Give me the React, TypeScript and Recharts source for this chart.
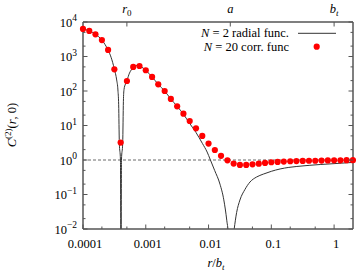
import React from 'react';
import { ComposedChart, Line, Scatter, XAxis, YAxis, ReferenceLine, Legend } from 'recharts';

// N = 2 radial function (solid line)
const radialR = [
  0.0001, 0.000126, 0.000158, 0.0002, 0.00025, 0.00028, 0.000316, 0.000344, 0.00036, 0.00037,
  0.000379, 0.000395, 0.000403, 0.00041, 0.000429, 0.00044, 0.00045, 0.000475, 0.0005, 0.00055,
  0.00063, 0.0007, 0.00076, 0.00085, 0.001, 0.00126, 0.00158, 0.002, 0.0025, 0.00316,
  0.004, 0.005, 0.0063, 0.008, 0.0095, 0.0106, 0.0125, 0.0152, 0.0175, 0.0195,
  0.021, 0.0227, 0.024, 0.0256, 0.028, 0.0316, 0.038, 0.0457, 0.058, 0.0746,
  0.1, 0.138, 0.19, 0.255, 0.4, 0.6, 0.86, 1.3, 2,
];
const radialC = [
  6300, 5500, 4400, 3000, 1550, 950, 430, 209, 107, 40,
  3.2, 1, 0.0001, 1, 3.2, 50, 110, 160, 200, 330,
  470, 540, 550, 500, 400, 256, 156, 100, 59, 36,
  21, 11.5, 6.3, 3.0, 1.7, 1.05, 0.5, 0.2, 0.07, 0.018,
  0.005, 0.0001, 0.004, 0.01, 0.03, 0.069, 0.14, 0.23, 0.32, 0.39,
  0.47, 0.55, 0.61, 0.65, 0.7, 0.74, 0.77, 0.81, 0.85,
];

// N = 20 correlation function (red dots)
const corrR = [
  0.0001, 0.000126, 0.000158, 0.0002, 0.000251, 0.000316, 0.000398, 0.000501, 0.000631, 0.000794,
  0.001, 0.00126, 0.00158, 0.002, 0.00251, 0.00316, 0.00398, 0.00501, 0.00631, 0.00794,
  0.01, 0.0126, 0.0158, 0.02, 0.0251, 0.0316, 0.0398, 0.0501, 0.0631, 0.0794,
  0.1, 0.126, 0.158, 0.2, 0.251, 0.316, 0.398, 0.501, 0.631, 0.794,
  1, 1.26, 1.58, 1.995,
];
const corrC = [
  6300, 5500, 4400, 3000, 1550, 425, 3.2, 195, 500, 530,
  400, 256, 156, 100, 59, 36, 22, 13.5, 8.3, 5.0,
  3.0, 1.95, 1.32, 0.98, 0.79, 0.72, 0.72, 0.75, 0.78, 0.82,
  0.86, 0.88, 0.9, 0.92, 0.93, 0.94, 0.95, 0.95, 0.96, 0.97,
  0.98, 0.98, 0.99, 0.99,
];

const xTicks = [0.0001, 0.0002, 0.0005, 0.001, 0.002, 0.005, 0.01, 0.02, 0.05, 0.1, 0.2, 0.5, 1];
const xLabels = [
  { v: 0.0001, t: '0.0001' },
  { v: 0.001, t: '0.001' },
  { v: 0.01, t: '0.01' },
  { v: 0.1, t: '0.1' },
  { v: 1, t: '1' },
];
const yTicks = [
  0.01, 0.02, 0.05, 0.1, 0.2, 0.5, 1, 2, 5, 10, 20, 50, 100, 200, 500, 1000, 2000, 5000, 10000,
];
const yExponents = [
  { v: 0.01, e: '−2' },
  { v: 0.1, e: '−1' },
  { v: 1, e: '0' },
  { v: 10, e: '1' },
  { v: 100, e: '2' },
  { v: 1000, e: '3' },
  { v: 10000, e: '4' },
];
const topTicks = [
  { v: 0.0005, t: 'r', sub: '0' },
  { v: 0.0222, t: 'a', sub: '' },
  { v: 1, t: 'b', sub: 't' },
];

const radialData = radialR.map((x, i) => ({ x, y: radialC[i] }));
const corrData = corrR.map((x, i) => ({ x, y: corrC[i] }));

const TXT = { fontFamily: "'Liberation Serif', 'DejaVu Serif', serif", fontSize: 12.5, fill: '#000' };
const AXIS = '#555';
const same = (a: number, b: number) => Math.abs(a - b) <= Math.abs(b) * 1e-6;

function BottomTick({ x, y, payload }: any) {
  const lab = xLabels.find((l) => same(l.v, payload.value));
  return (
    <g>
      <line x1={x} y1={y} x2={x} y2={y - (lab ? 4.5 : 2.5)} stroke={AXIS} strokeWidth={1} />
      {lab && (
        <text x={x + 2} y={y + 19} textAnchor="middle" style={TXT}>
          {lab.t}
        </text>
      )}
    </g>
  );
}

function TopTick({ x, y, payload }: any) {
  const lab = topTicks.find((l) => same(l.v, payload.value));
  return (
    <g>
      <line x1={x} y1={y} x2={x} y2={y + 4.5} stroke={AXIS} strokeWidth={1} />
      {lab && (
        <text x={x} y={y - 9} textAnchor="middle" style={TXT}>
          <tspan fontStyle="italic">{lab.t}</tspan>
          {lab.sub && (
            <tspan dy={3} fontSize={9} fontStyle={lab.sub === 't' ? 'italic' : 'normal'}>
              {lab.sub}
            </tspan>
          )}
        </text>
      )}
    </g>
  );
}

function LeftTick({ x, y, payload }: any) {
  const lab = yExponents.find((l) => same(l.v, payload.value));
  return (
    <g>
      <line x1={x} y1={y} x2={x + (lab ? 4.5 : 2.5)} y2={y} stroke={AXIS} strokeWidth={1} />
      {lab && (
        <text x={x - 6} y={y + 4.5} textAnchor="end" style={TXT}>
          <tspan>10</tspan>
          <tspan dy={-5.5} fontSize={9.5}>{lab.e}</tspan>
        </text>
      )}
    </g>
  );
}

function RightTick({ x, y, payload }: any) {
  const major = yExponents.some((l) => same(l.v, payload.value));
  return <line x1={x} y1={y} x2={x - (major ? 4.5 : 2.5)} y2={y} stroke={AXIS} strokeWidth={1} />;
}

const renderLegend = () => (
  <svg width={186} height={40} style={{ display: 'block' }}>
    <text x={119} y={16.5} textAnchor="end" style={TXT}>
      <tspan fontStyle="italic">N</tspan>
      {' = 2 radial func.'}
    </text>
    <line x1={128} y1={13.3} x2={166} y2={13.3} stroke="#333" strokeWidth={1} />
    <text x={119} y={30.5} textAnchor="end" style={TXT}>
      <tspan fontStyle="italic">N</tspan>
      {' = 20 corr. func'}
    </text>
    <circle cx={146.7} cy={26.7} r={3.1} fill="#ff0000" />
  </svg>
);

export default function App() {
  return (
    <div style={{ position: 'absolute', left: 0, top: 0, width: 356, height: 272, background: '#fff' }}>
      <ComposedChart width={356} height={272} margin={{ top: 21, right: 2, bottom: 42, left: 82 }}>
        <XAxis
          dataKey="x"
          type="number"
          scale="log"
          domain={[0.0001, 2]}
          ticks={xTicks}
          interval={0}
          height={1}
          tickSize={0}
          tickMargin={0}
          tickLine={false}
          axisLine={{ stroke: AXIS, strokeWidth: 1.5 }}
          tick={<BottomTick />}
          label={{
            content: () => (
              <text x={216} y={267} textAnchor="middle" style={TXT}>
                <tspan fontStyle="italic">r</tspan>
                <tspan>/</tspan>
                <tspan fontStyle="italic">b</tspan>
                <tspan dy={3} fontSize={9} fontStyle="italic">t</tspan>
              </text>
            ),
          }}
        />
        <XAxis
          xAxisId="top"
          orientation="top"
          dataKey="x"
          type="number"
          scale="log"
          domain={[0.0001, 2]}
          ticks={topTicks.map((t) => t.v)}
          interval={0}
          height={1}
          tickSize={0}
          tickMargin={0}
          tickLine={false}
          axisLine={{ stroke: AXIS, strokeWidth: 1.5 }}
          tick={<TopTick />}
        />
        <YAxis
          dataKey="y"
          type="number"
          scale="log"
          domain={[0.01, 10000]}
          allowDataOverflow
          ticks={yTicks}
          interval={0}
          width={1}
          tickSize={0}
          tickMargin={0}
          tickLine={false}
          axisLine={{ stroke: AXIS, strokeWidth: 1.5 }}
          tick={<LeftTick />}
          label={{
            content: () => (
              <text x={16} y={125} transform="rotate(-90, 16, 125)" textAnchor="middle" style={TXT}>
                <tspan fontStyle="italic">C</tspan>
                <tspan dy={-5.5} fontSize={9}>(2)</tspan>
                <tspan dy={5.5}>(</tspan>
                <tspan fontStyle="italic">r</tspan>
                <tspan>, 0)</tspan>
              </text>
            ),
          }}
        />
        <YAxis
          yAxisId="right"
          orientation="right"
          dataKey="y"
          type="number"
          scale="log"
          domain={[0.01, 10000]}
          ticks={yTicks}
          interval={0}
          width={1}
          tickSize={0}
          tickMargin={0}
          tickLine={false}
          axisLine={{ stroke: AXIS, strokeWidth: 1.5 }}
          tick={<RightTick />}
        />
        <ReferenceLine y={1} stroke="#444" strokeWidth={0.8} strokeDasharray="3 2" />
        <Line
          data={radialData}
          dataKey="y"
          type="monotone"
          stroke="#333"
          strokeWidth={1}
          dot={false}
          activeDot={false}
          isAnimationActive={false}
        />
        <Scatter
          data={corrData}
          dataKey="y"
          xAxisId="top"
          yAxisId="right"
          fill="#ff0000"
          shape={(p: any) => <circle cx={p.cx} cy={p.cy} r={3.1} fill="#ff0000" />}
          isAnimationActive={false}
        />
        <Legend
          layout="vertical"
          align="center"
          verticalAlign="middle"
          wrapperStyle={{ position: 'absolute', left: 170, top: 20, width: 186, height: 40 }}
          content={renderLegend}
        />
      </ComposedChart>
    </div>
  );
}
